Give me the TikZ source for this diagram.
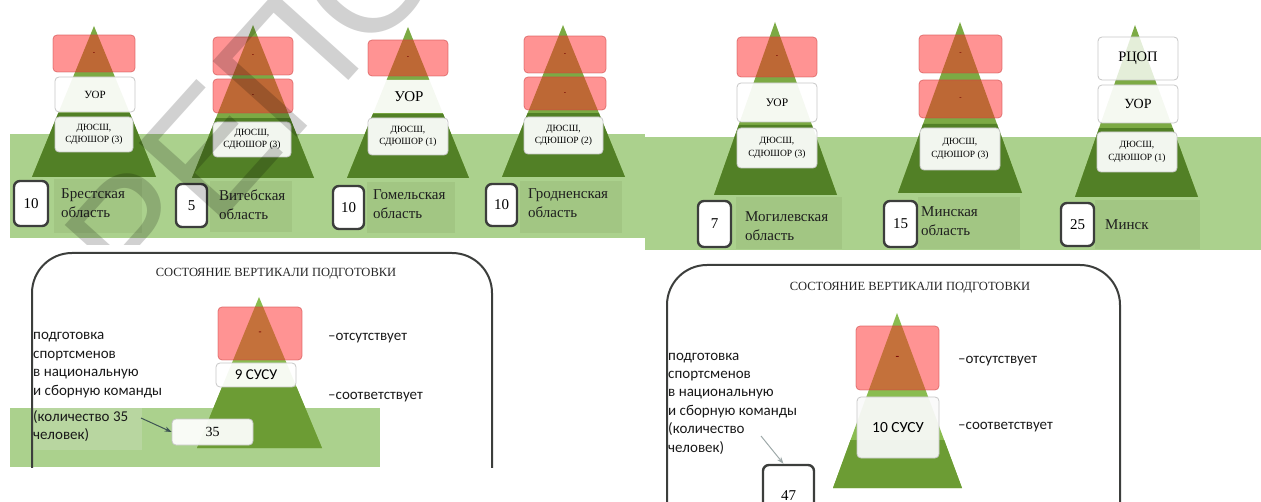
\documentclass[tikz,border=0pt]{standalone}
\usepackage{fontspec}
\setmainfont{Liberation Serif}
\newfontfamily\sansfont{Carlito}
\newfontfamily\wmfont{Liberation Sans}
\usetikzlibrary{calc,arrows.meta}

\definecolor{bandgreen}{RGB}{171,209,141}
\definecolor{labelgreen}{RGB}{162,198,131}
\definecolor{notegreen}{RGB}{184,214,160}
\definecolor{pyrlight}{RGB}{124,170,68}
\definecolor{pyrdark}{RGB}{82,128,38}
\definecolor{pyrtip}{RGB}{138,188,80}
\definecolor{pyrmid}{RGB}{108,156,52}
\definecolor{boxred}{RGB}{255,40,40}
\definecolor{frame}{RGB}{60,62,60}
\definecolor{arrowc}{RGB}{62,84,84}

\begin{document}
\begin{tikzpicture}[x=1pt,y=-1pt,
  redbox/.style={rounded corners=4pt, fill=boxred, fill opacity=0.5, text opacity=1,
    draw={rgb,255:red,205;green,70;blue,70}, draw opacity=0.6, line width=0.8pt,
    inner sep=0pt, text=red!45!black, font=\fontsize{7}{7}\selectfont\bfseries},
  whitebox/.style={rounded corners=4pt, fill=white, fill opacity=0.93, text opacity=1,
    draw=black!22, line width=0.8pt, inner sep=0pt, align=center,
    font=\fontsize{9.5}{12.5}\selectfont},
  numbox/.style={rounded corners=6pt, fill=white, draw=frame, line width=2.4pt,
    inner sep=0pt, font=\fontsize{15}{15}\selectfont},
  regtext/.style={anchor=west, align=left, inner sep=0pt, text=black!88,
    font=\fontsize{15}{19}\selectfont},
  sanstext/.style={anchor=west, align=left, inner sep=0pt, text=black!90,
    font=\sansfont\fontsize{15}{18.4}\selectfont},
  titletext/.style={inner sep=0pt, text=black!85, font=\fontsize{12.5}{12.5}\selectfont},
  panelframe/.style={draw=frame, line width=2pt, rounded corners=40pt},
  connector/.style={draw=arrowc, line width=1pt, -{Stealth[length=7pt,width=5pt]}}]

\useasboundingbox (0,0) rectangle (1261,502);

% green bands of the two upper panels
\fill[bandgreen] (10,134) rectangle (645,238);
\fill[bandgreen] (645,137) rectangle (1261,250);
\fill[labelgreen] (54,179) rectangle (142,233);
\fill[labelgreen] (210,181) rectangle (292,232);
\fill[labelgreen] (367,182) rectangle (455,233);
\fill[labelgreen] (520,181) rectangle (622,233);
\fill[labelgreen] (736,197) rectangle (842,249);
\fill[labelgreen] (918,197) rectangle (1020,249);
\fill[labelgreen] (1095,200) rectangle (1200,249);

% Брестская область
\coordinate (a1) at (94,26);
\coordinate (l1) at (32,177);
\coordinate (r1) at (156,177);
\fill[pyrlight] (a1) -- (l1) -- (r1) -- cycle;
\fill[pyrdark] ($(a1)!0.576!(l1)$) -- (l1) -- (r1) -- ($(a1)!0.576!(r1)$) -- cycle;
\node[redbox, minimum width=82, minimum height=37] (red1) at (94,53.5) {-};
\node[whitebox, minimum width=80, minimum height=35, font=\fontsize{11}{11}\selectfont] (uor1) at (95,94.5) {УОР};
\node[whitebox, minimum width=78, minimum height=35] (sch1) at (94,134.5) {ДЮСШ,\\СДЮШОР (3)};
\node[numbox, minimum width=34, minimum height=45] (num1) at (31,203.5) {10};
\node[regtext] (reg1) at (61,203) {Брестская\\область};

% Витебская область
\coordinate (a2) at (253,25);
\coordinate (l2) at (192,178);
\coordinate (r2) at (314,178);
\fill[pyrlight] (a2) -- (l2) -- (r2) -- cycle;
\fill[pyrdark] ($(a2)!0.608!(l2)$) -- (l2) -- (r2) -- ($(a2)!0.608!(r2)$) -- cycle;
\node[redbox, minimum width=80, minimum height=38] (red2a) at (253,56) {-};
\node[redbox, minimum width=80, minimum height=34] (red2b) at (253,96) {-};
\node[whitebox, minimum width=78, minimum height=35] (sch2) at (252,139.5) {ДЮСШ,\\СДЮШОР (3)};
\node[numbox, minimum width=31, minimum height=43] (num2) at (191.5,205.5) {5};
\node[regtext] (reg2) at (219,205) {Витебская\\область};

% Гомельская область
\coordinate (a3) at (408,27);
\coordinate (l3) at (347,178);
\coordinate (r3) at (469,178);
\fill[pyrlight] (a3) -- (l3) -- (r3) -- cycle;
\fill[pyrdark] ($(a3)!0.576!(l3)$) -- (l3) -- (r3) -- ($(a3)!0.576!(r3)$) -- cycle;
\node[redbox, minimum width=80, minimum height=36] (red3) at (408,58) {-};
\node[whitebox, minimum width=78, minimum height=33, draw opacity=0, font=\fontsize{15}{15}\selectfont] (uor3) at (409,96.5) {УОР};
\node[whitebox, minimum width=80, minimum height=37] (sch3) at (408,136.5) {ДЮСШ,\\СДЮШОР (1)};
\node[numbox, minimum width=31, minimum height=43] (num3) at (348.5,207.5) {10};
\node[regtext] (reg3) at (373,204) {Гомельская\\область};

% Гродненская область
\coordinate (a4) at (563,25);
\coordinate (l4) at (502,177);
\coordinate (r4) at (625,177);
\fill[pyrlight] (a4) -- (l4) -- (r4) -- cycle;
\fill[pyrdark] ($(a4)!0.579!(l4)$) -- (l4) -- (r4) -- ($(a4)!0.579!(r4)$) -- cycle;
\node[redbox, minimum width=82, minimum height=37] (red4a) at (565,54.5) {-};
\node[redbox, minimum width=82, minimum height=33] (red4b) at (565,93.5) {-};
\node[whitebox, minimum width=79, minimum height=37] (sch4) at (563.5,135.5) {ДЮСШ,\\СДЮШОР (2)};
\node[numbox, minimum width=31, minimum height=42] (num4) at (501.5,205) {10};
\node[regtext] (reg4) at (528,203) {Гродненская\\область};

% Могилевская область
\coordinate (a5) at (775,22);
\coordinate (l5) at (714,195);
\coordinate (r5) at (837,195);
\fill[pyrlight] (a5) -- (l5) -- (r5) -- cycle;
\fill[pyrdark] ($(a5)!0.595!(l5)$) -- (l5) -- (r5) -- ($(a5)!0.595!(r5)$) -- cycle;
\node[redbox, minimum width=80, minimum height=40] (red5) at (777,57) {-};
\node[whitebox, minimum width=80, minimum height=39, font=\fontsize{11.5}{11.5}\selectfont] (uor5) at (777,102.5) {УОР};
\node[whitebox, minimum width=80, minimum height=40] (sch5) at (777,148) {ДЮСШ,\\СДЮШОР (3)};
\node[numbox, minimum width=33, minimum height=46] (num5) at (714.5,224) {7};
\node[regtext] (reg5) at (745,226) {Могилевская\\область};

% Минская область
\coordinate (a6) at (960,22);
\coordinate (l6) at (898,193);
\coordinate (r6) at (1022,193);
\fill[pyrlight] (a6) -- (l6) -- (r6) -- cycle;
\fill[pyrdark] ($(a6)!0.596!(l6)$) -- (l6) -- (r6) -- ($(a6)!0.596!(r6)$) -- cycle;
\node[redbox, minimum width=83, minimum height=38] (red6a) at (960.5,54) {-};
\node[redbox, minimum width=83, minimum height=38] (red6b) at (960.5,99) {-};
\node[whitebox, minimum width=80, minimum height=42] (sch6) at (960,149) {ДЮСШ,\\СДЮШОР (3)};
\node[numbox, minimum width=33, minimum height=46] (num6) at (900.5,224) {15};
\node[regtext] (reg6) at (921,221) {Минская\\область};

% Минск
\coordinate (a7) at (1135,25);
\coordinate (l7) at (1075,197);
\coordinate (r7) at (1198,197);
\fill[pyrlight] (a7) -- (l7) -- (r7) -- cycle;
\fill[pyrdark] ($(a7)!0.599!(l7)$) -- (l7) -- (r7) -- ($(a7)!0.599!(r7)$) -- cycle;
\node[whitebox, minimum width=80, minimum height=43, fill opacity=0.8, font=\fontsize{14.5}{14.5}\selectfont] (rcop7) at (1138,58.5) {РЦОП};
\node[whitebox, minimum width=80, minimum height=38, font=\fontsize{14}{14}\selectfont] (uor7) at (1138,104) {УОР};
\node[whitebox, minimum width=80, minimum height=40] (sch7) at (1137,152) {ДЮСШ,\\СДЮШОР (1)};
\node[numbox, minimum width=33, minimum height=43] (num7) at (1077.5,224.5) {25};
\node[regtext] (reg7) at (1105,225) {Минск};

% watermark over the first panel
\begin{scope}
\clip (0,0) rectangle (645,245);
\node[inner sep=0pt, rotate=48, text=black, text opacity=0.18,
  font=\wmfont\fontsize{165}{165}\selectfont] (wmark) at (255,100) {РЕПО};
\end{scope}

% lower left panel: state of the training vertical
\fill[bandgreen] (10,408) rectangle (380,467);
\fill[notegreen] (33,408) rectangle (142,450);
\coordinate (a8) at (259,297);
\coordinate (l8) at (197,448);
\coordinate (r8) at (322,448);
\fill[pyrtip] (a8) -- (l8) -- (r8) -- cycle;
\fill[pyrmid] ($(a8)!0.596!(l8)$) -- (l8) -- (r8) -- ($(a8)!0.596!(r8)$) -- cycle;
\node[redbox, minimum width=84, minimum height=53, font=\fontsize{9}{9}\selectfont\bfseries] (red8) at (260,333.5) {-};
\node[whitebox, minimum width=80, minimum height=24, font=\sansfont\fontsize{15}{15}\selectfont] (susu8) at (256,375) {9 СУСУ};
\node[whitebox, minimum width=81, minimum height=26, font=\fontsize{14}{14}\selectfont] (n35) at (212.5,432) {35};
\node[titletext] (title8) at (276,274) {СОСТОЯНИЕ ВЕРТИКАЛИ ПОДГОТОВКИ};
\node[sanstext] (txt8a) at (33,365) {подготовка\\спортсменов\\в национальную\\и сборную команды};
\node[sanstext] (txt8b) at (33,426) {(количество 35\\человек)};
\node[sanstext] (abs8) at (328,338) {–отсутствует};
\node[sanstext] (fit8) at (328,397) {–соответствует};
\coordinate (arA) at (141,418);
\draw[connector] (arA) -- (n35.west);
\begin{scope}
\clip (0,250) rectangle (520,467);
\draw[panelframe] (32,253) rectangle (492,510);
\end{scope}

% lower right panel: state of the training vertical
\coordinate (a9) at (897,313);
\coordinate (l9) at (833,488);
\coordinate (r9) at (962,488);
\fill[pyrtip] (a9) -- (l9) -- (r9) -- cycle;
\fill[pyrmid] ($(a9)!0.726!(l9)$) -- (l9) -- (r9) -- ($(a9)!0.726!(r9)$) -- cycle;
\node[redbox, minimum width=83, minimum height=64, font=\fontsize{11}{11}\selectfont\bfseries] (red9) at (897.5,358) {-};
\node[whitebox, minimum width=82, minimum height=61, fill=black!2, font=\sansfont\fontsize{15.5}{15.5}\selectfont] (susu9) at (898,427.5) {10 СУСУ};
\node[numbox, minimum width=51, minimum height=62] (n47) at (788.5,496) {47};
\node[titletext] (title9) at (910,288) {СОСТОЯНИЕ ВЕРТИКАЛИ ПОДГОТОВКИ};
\node[sanstext] (txt9) at (668,403.5) {подготовка\\спортсменов\\в национальную\\и сборную команды\\(количество\\человек)};
\node[sanstext] (abs9) at (958,361) {–отсутствует};
\node[sanstext] (fit9) at (958,427) {–соответствует};
\coordinate (arB) at (761,436);
\draw[connector, draw=arrowc!50] (arB) -- ([xshift=-5pt]n47.north);
\draw[panelframe] (667,265) rectangle (1120,545);
\end{tikzpicture}
\end{document}
